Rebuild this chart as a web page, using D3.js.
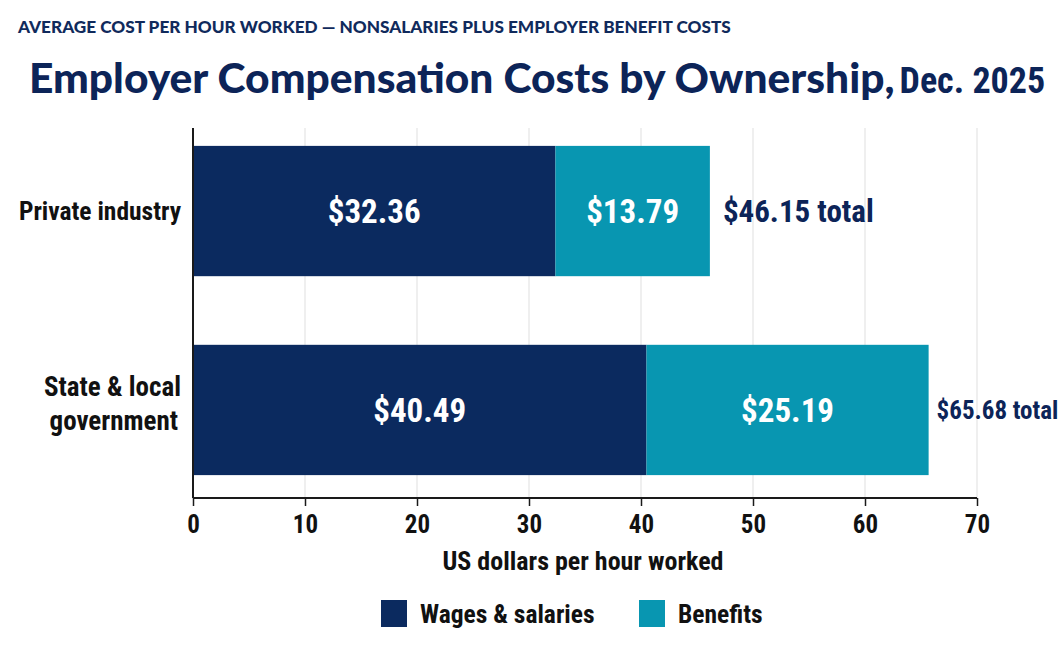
<!DOCTYPE html>
<html lang="en">
<head>
<meta charset="UTF-8">
<title>Employer Compensation Costs by Ownership</title>
<script src="https://cdnjs.cloudflare.com/ajax/libs/d3/7.8.5/d3.min.js"></script>
<style>
  body { margin: 0; background: #ffffff; }
  svg { display: block; }
  .cond { font-family: "Roboto Condensed", "DejaVu Sans Condensed", "Liberation Sans Narrow", "Arial Narrow", Roboto, sans-serif; font-weight: 700; }
  .subtitle { font-family: Lato, "Open Sans", sans-serif; font-weight: 900; font-size: 17.2px; fill: #102a5c; }
  .title { font-family: Lato, "Open Sans", sans-serif; font-weight: 900; font-size: 42.5px; fill: #0c2458; }
  .grid line { stroke: #e4e4e4; stroke-width: 1.2; }
</style>
</head>
<body>
<svg id="chart" width="1063" height="665"></svg>
<script>
// --- Data ---
const categories = ["Private industry", "State & local government"];
const wages = [32.36, 40.49];
const benefits = [13.79, 25.19];
const totals = [46.15, 65.68];
const seriesNames = ["Wages & salaries", "Benefits"];
const xTicks = [0, 10, 20, 30, 40, 50, 60, 70];

const colors = { wages: "#0b2a5f", benefits: "#0896b1", text: "#0c2458" };

const svg = d3.select("#chart");

// --- Scales ---
const x = d3.scaleLinear().domain([0, 70]).range([193, 977]);
const y = d3.scaleBand().domain(categories).range([126, 495])
  .paddingInner(0.345).paddingOuter(0.1);
const axisY = 498;

// --- Titles ---
svg.append("text").attr("class", "subtitle")
  .attr("x", 18).attr("y", 33)
  .text("AVERAGE COST PER HOUR WORKED \u2014 NONSALARIES PLUS EMPLOYER BENEFIT COSTS");

const title = svg.append("text").attr("class", "title").attr("x", 29).attr("y", 93);
title.append("tspan").text("Employer Compensation Costs by Ownership,");
title.append("tspan").attr("class", "cond").attr("dx", 5)
  .style("font-size", "36px").text("Dec. 2025");

// --- Gridlines ---
svg.append("g").attr("class", "grid")
  .selectAll("line").data(xTicks.slice(1)).join("line")
  .attr("x1", d => x(d)).attr("x2", d => x(d))
  .attr("y1", 128).attr("y2", axisY);

// --- Bars ---
const rows = categories.map((c, i) => ({ cat: c, wages: wages[i], benefits: benefits[i], total: totals[i] }));
const stack = d3.stack().keys(["wages", "benefits"])(rows);

svg.append("g").selectAll("g").data(stack).join("g")
  .attr("fill", d => colors[d.key])
  .selectAll("rect").data(d => d).join("rect")
  .attr("x", d => x(d[0]))
  .attr("width", d => x(d[1]) - x(d[0]))
  .attr("y", d => y(d.data.cat))
  .attr("height", y.bandwidth());

// value labels inside bars
svg.append("g").selectAll("g").data(stack).join("g")
  .selectAll("text").data(d => d).join("text")
  .attr("class", "cond")
  .attr("x", d => x((d[0] + d[1]) / 2))
  .attr("y", d => y(d.data.cat) + y.bandwidth() / 2)
  .attr("dy", "0.36em")
  .attr("text-anchor", "middle")
  .attr("fill", "#ffffff")
  .style("font-size", "33px")
  .text(d => "$" + (d[1] - d[0]).toFixed(2));

// totals (the wider bar leaves less room, so its label is a bit smaller)
svg.append("g").selectAll("text").data(rows).join("text")
  .attr("class", "cond")
  .attr("x", (d, i) => x(d.total) + (i === 0 ? 13 : 8))
  .attr("y", d => y(d.cat) + y.bandwidth() / 2)
  .attr("dy", "0.36em")
  .attr("fill", colors.text)
  .style("font-size", (d, i) => i === 0 ? "31px" : "25px")
  .text(d => "$" + d.total.toFixed(2) + " total");

// --- Axes ---
const xAxis = svg.append("g").attr("transform", `translate(0,${axisY})`)
  .call(d3.axisBottom(x).tickValues(xTicks).tickSize(8).tickFormat(d3.format("d")));
xAxis.select(".domain").attr("stroke", "#1a1a1a").attr("stroke-width", 2)
  .attr("d", `M${x(0)},0H${x(70)}`);
xAxis.selectAll(".tick line").attr("stroke", "#1a1a1a").attr("stroke-width", 1.5);
xAxis.selectAll(".tick text").attr("class", "cond")
  .style("font-size", "25px").attr("fill", "#111").attr("dy", "0.95em");

svg.append("line")
  .attr("x1", x(0)).attr("x2", x(0)).attr("y1", 128).attr("y2", axisY)
  .attr("stroke", "#1a1a1a").attr("stroke-width", 2);

// category labels (wrapped)
const catLines = { "Private industry": ["Private industry"], "State & local government": ["State & local", "government"] };
const catText = svg.append("g").selectAll("text").data(categories).join("text")
  .attr("class", "cond")
  .attr("text-anchor", "end")
  .attr("x", 183)
  .attr("y", d => y(d) + y.bandwidth() / 2)
  .attr("fill", "#111")
  .style("font-size", d => catLines[d].length === 1 ? "25.5px" : "27px");
catText.each(function (d) {
  const lines = catLines[d];
  const t = d3.select(this);
  lines.forEach((ln, i) => {
    t.append("tspan").attr("x", i === 0 ? 181 : 178)
      .attr("dy", lines.length === 1 ? "0.36em" : (i === 0 ? "-0.5em" : "1.25em"))
      .text(ln);
  });
});

// axis title
svg.append("text").attr("class", "cond")
  .attr("x", (x(0) + x(70)) / 2 - 2).attr("y", 570)
  .attr("text-anchor", "middle").attr("fill", "#111")
  .style("font-size", "26px")
  .text("US dollars per hour worked");

// --- Legend ---
const legendX = [381, 639];
const legendColors = [colors.wages, colors.benefits];
const legend = svg.append("g").selectAll("g").data(seriesNames).join("g")
  .attr("transform", (d, i) => `translate(${legendX[i]},600)`);
legend.append("rect").attr("width", 26).attr("height", 27).attr("fill", (d, i) => legendColors[i]);
legend.append("text").attr("class", "cond")
  .attr("x", 39).attr("y", 14).attr("dy", "0.36em")
  .attr("fill", "#111").style("font-size", "25.5px")
  .text(d => d);
</script>
</body>
</html>
